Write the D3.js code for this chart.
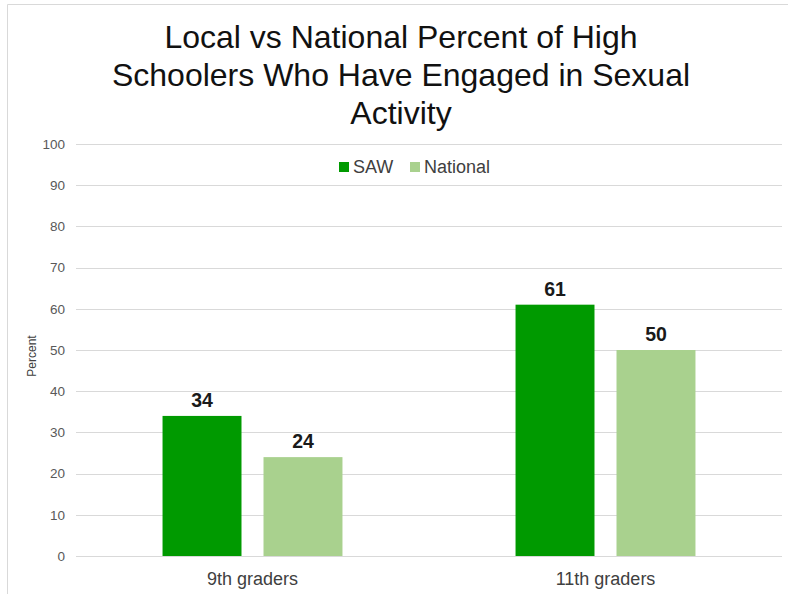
<!DOCTYPE html>
<html>
<head>
<meta charset="utf-8">
<script src="https://cdn.jsdelivr.net/npm/d3@7"></script>
<style>
  html, body { margin: 0; padding: 0; background: #fff; }
  svg { display: block; font-family: "Liberation Sans", Arial, sans-serif; }
</style>
</head>
<body>
<svg id="chart" width="788" height="594"></svg>
<script>
// Survey results: share of high schoolers (%) by grade
const categories = ["9th graders", "11th graders"];
const seriesNames = ["SAW", "National"];
const sawValues = [34, 61];
const nationalValues = [24, 50];
const yTicks = [0, 10, 20, 30, 40, 50, 60, 70, 80, 90, 100];
const titleLines = ["Local vs National Percent of High", "Schoolers Who Have Engaged in Sexual", "Activity"];

const colors = { SAW: "#009a00", National: "#a9d18e" };

const svg = d3.select("#chart");

// chart frame
svg.append("path")
  .attr("d", "M7.5,594 V4.5 H788")
  .attr("fill", "none")
  .attr("stroke", "#d9d9d9")
  .attr("stroke-width", 1);

const plot = { left: 76, right: 782, top: 144, bottom: 556 };

const x = d3.scaleBand()
  .domain(categories)
  .range([plot.left, plot.right]);

const inner = d3.scaleBand()
  .domain(seriesNames)
  .range([0, x.bandwidth()])
  .paddingInner(0.218)
  .paddingOuter(0.857);

const y = d3.scaleLinear()
  .domain([0, 100])
  .range([plot.bottom, plot.top]);

// gridlines
svg.append("g")
  .selectAll("line")
  .data(yTicks)
  .join("line")
  .attr("x1", plot.left)
  .attr("x2", plot.right)
  .attr("y1", d => Math.round(y(d)) + 0.5)
  .attr("y2", d => Math.round(y(d)) + 0.5)
  .attr("stroke", "#d9d9d9")
  .attr("stroke-width", 1);

// y axis labels
const yAxis = d3.axisLeft(y).tickValues(yTicks).tickSize(0).tickPadding(11);
const yg = svg.append("g")
  .attr("transform", `translate(${plot.left},0)`)
  .call(yAxis);
yg.select(".domain").remove();
yg.selectAll("text")
  .attr("font-family", "Liberation Sans, Arial, sans-serif")
  .attr("font-size", 13.5)
  .attr("fill", "#595959");

// x axis labels
const xAxis = d3.axisBottom(x).tickSize(0);
const xg = svg.append("g")
  .attr("transform", `translate(0,${plot.bottom})`)
  .call(xAxis);
xg.select(".domain").remove();
xg.selectAll("text")
  .attr("y", 29)
  .attr("dy", 0)
  .attr("font-family", "Liberation Sans, Arial, sans-serif")
  .attr("font-size", 18)
  .attr("fill", "#404040");

// bars
const rows = categories.map((c, i) => ({
  category: c,
  values: [
    { series: "SAW", value: sawValues[i] },
    { series: "National", value: nationalValues[i] }
  ]
}));

const groups = svg.append("g")
  .selectAll("g")
  .data(rows)
  .join("g")
  .attr("transform", d => `translate(${x(d.category)},0)`);

groups.selectAll("rect")
  .data(d => d.values)
  .join("rect")
  .attr("x", d => inner(d.series))
  .attr("width", inner.bandwidth())
  .attr("y", d => y(d.value))
  .attr("height", d => y(0) - y(d.value))
  .attr("fill", d => colors[d.series]);

// value labels
groups.selectAll("text")
  .data(d => d.values)
  .join("text")
  .attr("x", d => inner(d.series) + inner.bandwidth() / 2)
  .attr("y", d => y(d.value) - 9)
  .attr("text-anchor", "middle")
  .attr("font-size", 19.5)
  .attr("font-weight", "bold")
  .attr("fill", "#1a1a1a")
  .text(d => d.value);

// title
svg.append("text")
  .attr("text-anchor", "middle")
  .attr("font-size", 32)
  .attr("fill", "#111")
  .selectAll("tspan")
  .data(titleLines)
  .join("tspan")
  .attr("x", 401)
  .attr("y", (d, i) => 47.5 + i * 38)
  .text(d => d);

// y axis title
svg.append("text")
  .attr("transform", "translate(35.5,356) rotate(-90)")
  .attr("text-anchor", "middle")
  .attr("font-size", 12)
  .attr("fill", "#404040")
  .text("Percent");

// legend
const legend = svg.append("g").attr("transform", "translate(339,167)");
const legendItems = legend.selectAll("g")
  .data(seriesNames)
  .join("g")
  .attr("transform", (d, i) => `translate(${i * 71},0)`);
legendItems.append("rect")
  .attr("x", 0)
  .attr("y", -5)
  .attr("width", 10)
  .attr("height", 10)
  .attr("fill", d => colors[d]);
legendItems.append("text")
  .attr("x", 14)
  .attr("y", 5.5)
  .attr("font-size", 18)
  .attr("fill", "#404040")
  .text(d => d);
</script>
</body>
</html>
